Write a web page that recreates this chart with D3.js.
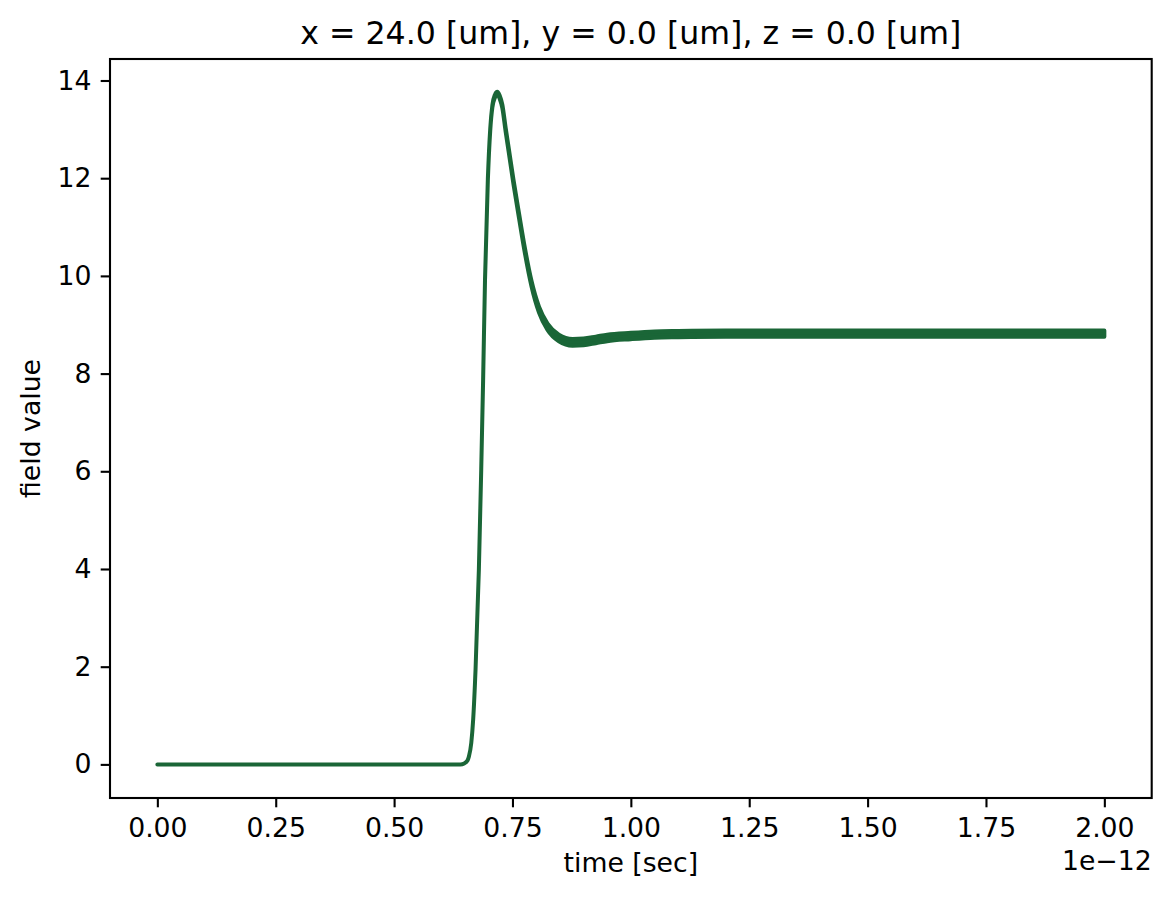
<!DOCTYPE html>
<html>
<head>
<meta charset="utf-8">
<script src="https://cdn.jsdelivr.net/npm/d3@7"></script>
<style>
  html, body { margin: 0; padding: 0; background: #fff; }
  svg { display: block; font-family: "DejaVu Sans", sans-serif; }
</style>
</head>
<body>
<svg id="chart" width="1170" height="901"></svg>
<script>
// ---- data (time in units of 1e-12 s) ----
const times = [0.00, 0.60, 0.640, 0.648, 0.655, 0.658, 0.663, 0.667, 0.672, 0.679, 0.684, 0.688,
  0.692, 0.698, 0.703, 0.7075, 0.713, 0.718, 0.723, 0.7286, 0.7356, 0.742, 0.752, 0.764, 0.776,
  0.790, 0.806, 0.824, 0.848, 0.877, 0.900, 0.926, 0.950, 1.00, 1.05, 1.10, 1.20, 1.50, 2.00];
const fieldMean = [0, 0, 0.00, 0.02, 0.08, 0.16, 0.44, 0.92, 1.94, 3.98, 6.03, 7.87,
  9.92, 11.97, 12.99, 13.47, 13.68, 13.74, 13.66, 13.47, 12.99, 12.58, 11.93, 11.22, 10.53,
  9.85, 9.31, 8.96, 8.73, 8.64, 8.65, 8.69, 8.73, 8.77, 8.80, 8.81, 8.82, 8.82, 8.82];
const fieldSpread = [0, 0, 0, 0, 0, 0, 0, 0, 0, 0, 0.005, 0.01,
  0.012, 0.015, 0.02, 0.025, 0.03, 0.03, 0.033, 0.036, 0.04, 0.043, 0.046, 0.05, 0.053,
  0.056, 0.06, 0.064, 0.067, 0.068, 0.068, 0.067, 0.066, 0.065, 0.064, 0.064, 0.064, 0.064, 0.064];
const xTicks = [0, 0.25, 0.5, 0.75, 1.0, 1.25, 1.5, 1.75, 2.0];
const yTicks = [0, 2, 4, 6, 8, 10, 12, 14];
const titleText = "x = 24.0 [um], y = 0.0 [um], z = 0.0 [um]";
const xLabel = "time [sec]";
const yLabel = "field value";
const offsetText = "1e\u221212";

// ---- layout ----
const L = 110, R = 1151.7, T = 59, B = 798;
const color = "#1a6637";
const FS = 26.7, TFS = 31.6;
const svg = d3.select("#chart");

const x = d3.scaleLinear().domain([-0.1, 2.1]).range([L, R]);
const y = d3.scaleLinear().domain([-0.688, 14.44]).range([B, T]);

const data = times.map((t, i) => ({ t, lo: fieldMean[i] - fieldSpread[i], hi: fieldMean[i] + fieldSpread[i] }));

// band (ensemble of traces) drawn as area with stroke
const area = d3.area()
  .x(d => x(d.t))
  .y0(d => y(d.lo))
  .y1(d => y(d.hi))
  .curve(d3.curveMonotoneX);

svg.append("path")
  .datum(data)
  .attr("d", area)
  .attr("fill", color)
  .attr("stroke", color)
  .attr("stroke-width", 4)
  .attr("stroke-linejoin", "round")
  .attr("stroke-linecap", "butt");

// axes
const xAxis = d3.axisBottom(x).tickValues(xTicks).tickFormat(d3.format(".2f"))
  .tickSize(9.3).tickPadding(10.3);
const yAxis = d3.axisLeft(y).tickValues(yTicks).tickFormat(d3.format("d"))
  .tickSize(9.3).tickPadding(9.3);

const gx = svg.append("g").attr("transform", `translate(0,${B})`).call(xAxis);
const gy = svg.append("g").attr("transform", `translate(${L},0)`).call(yAxis);
[gx, gy].forEach(g => {
  g.select(".domain").remove();
  g.selectAll(".tick line").attr("stroke", "#000").attr("stroke-width", 2.1);
  g.selectAll(".tick text").attr("fill", "#000").style("font-size", FS + "px")
    .style("font-family", "'DejaVu Sans', sans-serif");
});

// spines
svg.append("rect")
  .attr("x", L).attr("y", T).attr("width", R - L).attr("height", B - T)
  .attr("fill", "none").attr("stroke", "#000").attr("stroke-width", 2.1);

// texts
svg.append("text")
  .attr("x", (L + R) / 2).attr("y", 43.5)
  .attr("text-anchor", "middle")
  .style("font-size", TFS + "px")
  .text(titleText);

svg.append("text")
  .attr("x", (L + R) / 2).attr("y", 872)
  .attr("text-anchor", "middle")
  .style("font-size", FS + "px")
  .text(xLabel);

svg.append("text")
  .attr("x", R).attr("y", 870)
  .attr("text-anchor", "end")
  .style("font-size", FS + "px")
  .text(offsetText);

svg.append("text")
  .attr("transform", `translate(40,${(T + B) / 2}) rotate(-90)`)
  .attr("text-anchor", "middle")
  .style("font-size", FS + "px")
  .text(yLabel);
</script>
</body>
</html>
